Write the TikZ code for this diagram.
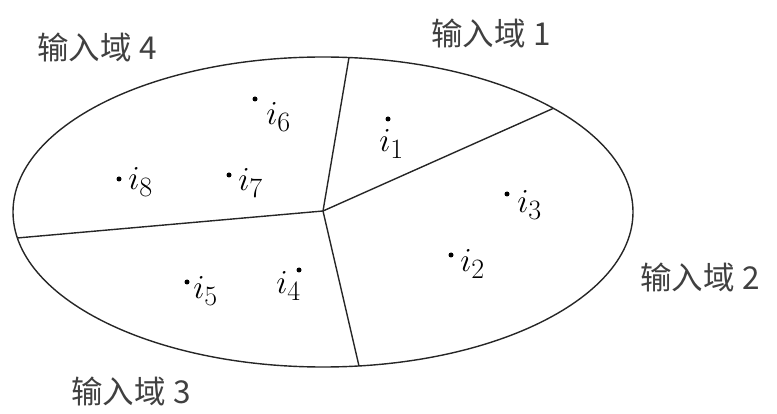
\documentclass[tikz,border=0pt]{standalone}
\usepackage{fontspec}
\usepackage{tikz}
\newfontfamily\cjk{Noto Sans CJK SC}
\pgfdeclarelayer{bg}
\pgfsetlayers{bg,main}
\tikzset{
  pt/.style={circle, fill=black, inner sep=0pt, minimum size=5pt},
  ilbl/.style={anchor=base west, inner sep=0pt, font=\Huge, scale=1.35},
  dom/.style={inner sep=0pt, text=black!75, font=\cjk\fontsize{31.5}{34}\selectfont},
  part/.style={line width=1.4pt, black!85}
}
\begin{document}
\begin{tikzpicture}[x=1pt, y=-1pt]
        \useasboundingbox (0,0) rectangle (777,414);
        \coordinate (o) at (323,211);
        \coordinate (e1) at (349,57.5);
        \coordinate (e2) at (553,108.5);
        \coordinate (e3) at (359,366);
        \coordinate (e4) at (17,238);
        \node (d1) [dom] at (491,33) {输入域 1};
        \node (d2) [dom] at (700,277) {输入域 2};
        \node (d3) [dom] at (131,391) {输入域 3};
        \node (d4) [dom] at (97,47) {输入域 4};
        \node (p1) [pt] at (388,119) {};
        \node (p2) [pt] at (451,255) {};
        \node (p3) [pt] at (507,194) {};
        \node (p4) [pt] at (299,270) {};
        \node (p5) [pt] at (187,282) {};
        \node (p6) [pt] at (255,99) {};
        \node (p7) [pt] at (229,175) {};
        \node (p8) [pt] at (119,179) {};
        \node (i1) [ilbl] at (379,152) {$i_1$};
        \node (i2) [ilbl] at (460,272) {$i_2$};
        \node (i3) [ilbl] at (517,213) {$i_3$};
        \node (i4) [ilbl] at (276,294) {$i_4$};
        \node (i5) [ilbl] at (193,299) {$i_5$};
        \node (i6) [ilbl] at (266,125) {$i_6$};
        \node (i7) [ilbl] at (238,191) {$i_7$};
        \node (i8) [ilbl] at (128,190) {$i_8$};
        \begin{pgfonlayer}{bg}
                \draw [part] (323,212) ellipse [x radius=310, y radius=155];
                \draw [part] (o) -- (e1);
                \draw [part] (o) -- (e2);
                \draw [part] (o) -- (e3);
                \draw [part] (o) -- (e4);
        \end{pgfonlayer}
\end{tikzpicture}
\end{document}
